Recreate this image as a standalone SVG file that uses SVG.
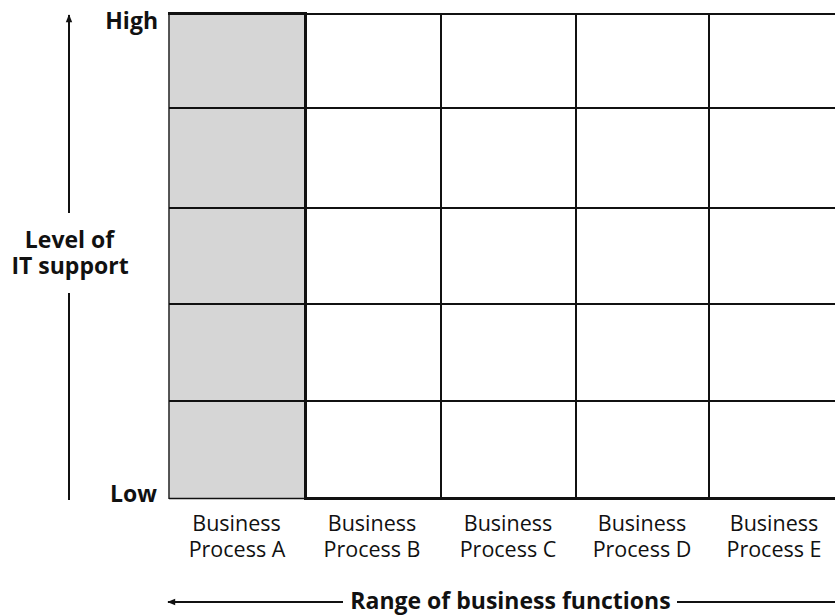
<svg xmlns="http://www.w3.org/2000/svg" width="835" height="615" viewBox="0 0 835 615">
<style>
.lbl{font-family:"Open Sans","Liberation Sans",sans-serif;font-size:21.5px;fill:#111;}
.b{font-weight:bold;font-size:23px;}
.g{stroke:#111;fill:none;}
</style>
<defs>
<marker id="ah" viewBox="0 0 10 10" refX="9" refY="5" markerWidth="9" markerHeight="8" markerUnits="userSpaceOnUse" orient="auto">
<path d="M0,1 L10,5 L0,9 z" fill="#111"/>
</marker>
</defs>
<rect width="835" height="615" fill="#fff"/>
<g id="grid">
<rect x="169.5" y="14" width="136" height="485" fill="#d6d6d6"/>
<g class="g" stroke-width="2">
<line x1="305" y1="14" x2="835" y2="14"/>
<line x1="169" y1="108" x2="835" y2="108"/>
<line x1="169" y1="208" x2="835" y2="208"/>
<line x1="169" y1="304" x2="835" y2="304"/>
<line x1="169" y1="401" x2="835" y2="401"/>
<line x1="441" y1="14" x2="441" y2="499"/>
<line x1="576" y1="14" x2="576" y2="499"/>
<line x1="709" y1="14" x2="709" y2="499"/>
</g>
<line class="g" x1="169" y1="13" x2="169" y2="499" stroke-width="1.4"/>
<line class="g" x1="169" y1="498.5" x2="305" y2="498.5" stroke-width="1.4"/>
<line class="g" x1="168" y1="13.5" x2="307" y2="13.5" stroke-width="3"/>
<line class="g" x1="305.5" y1="12" x2="305.5" y2="500" stroke-width="3"/>
<line class="g" x1="304" y1="498.5" x2="835" y2="498.5" stroke-width="3"/>
</g>
<g id="connectors">
<line class="g" x1="69" y1="213" x2="69" y2="15" stroke-width="2" marker-end="url(#ah)"/>
<line class="g" x1="69" y1="293" x2="69" y2="500" stroke-width="2"/>
<line class="g" x1="343" y1="602" x2="168" y2="602" stroke-width="2" marker-end="url(#ah)"/>
<line class="g" x1="677" y1="602" x2="835" y2="602" stroke-width="2"/>
</g>
<g id="axis-labels">
<text class="lbl b" x="158" y="29" text-anchor="end">High</text>
<text class="lbl b" x="157" y="502" text-anchor="end">Low</text>
<text class="lbl b" x="69.5" y="248" text-anchor="middle">Level of</text>
<text class="lbl b" x="70" y="274" text-anchor="middle">IT support</text>
<text class="lbl b" x="510.5" y="609" text-anchor="middle">Range of business functions</text>
</g>
<g id="col-a"><text class="lbl" x="236.5" y="531" text-anchor="middle">Business</text><text class="lbl" x="237" y="557" text-anchor="middle">Process A</text></g>
<g id="col-b"><text class="lbl" x="372" y="531" text-anchor="middle">Business</text><text class="lbl" x="372" y="557" text-anchor="middle">Process B</text></g>
<g id="col-c"><text class="lbl" x="508" y="531" text-anchor="middle">Business</text><text class="lbl" x="508" y="557" text-anchor="middle">Process C</text></g>
<g id="col-d"><text class="lbl" x="642" y="531" text-anchor="middle">Business</text><text class="lbl" x="642" y="557" text-anchor="middle">Process D</text></g>
<g id="col-e"><text class="lbl" x="774" y="531" text-anchor="middle">Business</text><text class="lbl" x="774" y="557" text-anchor="middle">Process E</text></g>
</svg>
